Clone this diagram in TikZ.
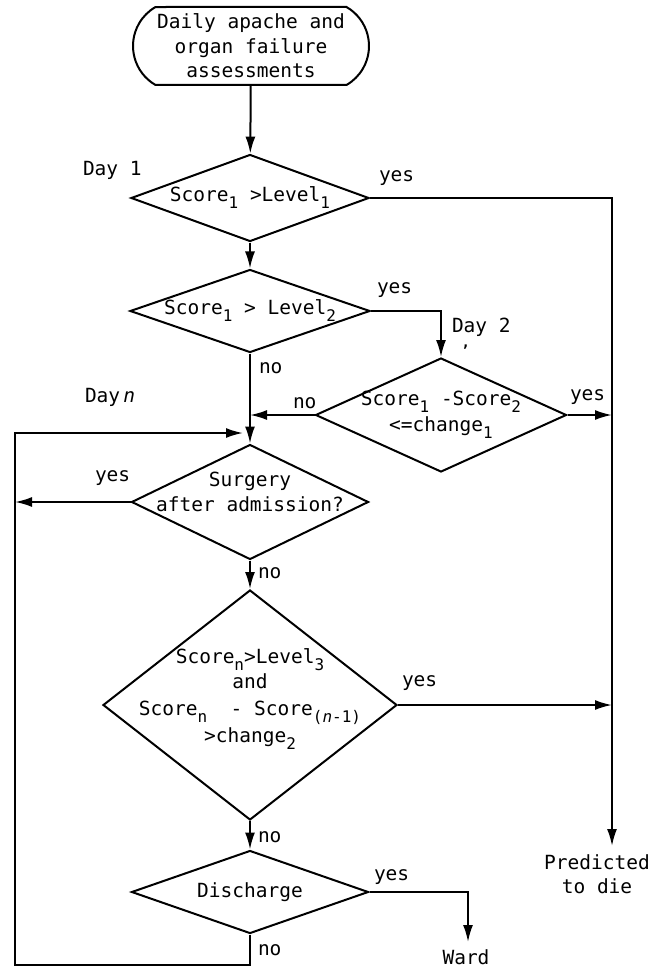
\documentclass[tikz,border=0pt]{standalone}
\usepackage{fontspec}
\setmainfont{DejaVu Sans Mono}
\usetikzlibrary{shapes.geometric,shapes.misc,arrows.meta}
\newcommand\sbx[1]{\raisebox{-7pt}{\fontsize{16}{16}\selectfont #1}}
\begin{document}
\begin{tikzpicture}[x=1pt,y=-1pt,
  line width=2pt,
  every node/.style={font=\fontsize{19.5}{24.5}\selectfont},
  dec/.style={draw, diamond, inner sep=0pt, line width=2pt},
  lbl/.style={inner sep=0pt, anchor=west},
  arr/.style={-{Latex[length=17pt,width=10pt]}, line width=2pt}]
\useasboundingbox (0,0) rectangle (670,968);

\node[draw, rounded rectangle, rounded rectangle arc length=120, minimum width=236pt, minimum height=78pt, inner sep=0pt, align=center] (term) at (251,46) {Daily apache and\\organ failure\\assessments};

\node[dec, minimum width=238pt, minimum height=87pt, label={[inner sep=0pt]center:Score\sbx{1} >Level\sbx{1}}] (d1) at (250,198) {};
\node[dec, minimum width=240pt, minimum height=83pt, label={[inner sep=0pt]center:Score\sbx{1} > Level\sbx{2}}] (d2) at (250,311) {};
\node[dec, minimum width=251pt, minimum height=114pt, label={[inner sep=0pt, align=center]center:Score\sbx{1} -Score\sbx{2}\\[2pt]<=change\sbx{1}}] (d3) at (441,415) {};
\node[dec, minimum width=237pt, minimum height=115pt, label={[inner sep=0pt, align=center, yshift=10pt]center:Surgery\\after admission?}] (surg) at (250,502) {};
\node[dec, minimum width=294pt, minimum height=230pt, label={[inner sep=0pt, align=center, yshift=6pt]center:Score\sbx{n}>Level\sbx{3}\\[1pt]and\\[2pt]Score\sbx{n}\ \ - Score\sbx{(\textit{n}-1)}\\[3pt]>change\sbx{2}}] (d4) at (250,705) {};
\node[dec, minimum width=237pt, minimum height=83pt, label={[inner sep=0pt]center:Discharge}] (disc) at (250,892) {};

\node[inner sep=0pt, align=center] (pred) at (597,874) {Predicted\\to die};
\node[inner sep=0pt] (ward) at (466,957) {Ward};

\node[lbl] (day1) at (82,170) {Day 1};
\node[lbl] (day2) at (451,327) {Day 2};
\node[lbl, font=\fontsize{14}{14}\selectfont\bfseries] (tick) at (460,350) {'};
\node[lbl] (dayn) at (84,397) {Day\,\textit{n}};

\node[lbl] (y1) at (378,178) {yes};
\node[lbl] (y2) at (376,290) {yes};
\node[lbl] (y3) at (569,397) {yes};
\node[lbl] (n3) at (292,403) {no};
\node[lbl] (n2) at (258,368) {no};
\node[lbl] (ys) at (94,478) {yes};
\node[lbl] (ns) at (257,573) {no};
\node[lbl] (y4) at (401,683) {yes};
\node[lbl] (n4) at (257,837) {no};
\node[lbl] (yd) at (373,877) {yes};
\node[lbl] (nd) at (257,950) {no};

\coordinate (predtop) at (612,846);
\coordinate (wardtop) at (468,942);
\coordinate (lb) at (15,965);
\coordinate (lt) at (15,433);

\draw[arr] (term) -- (d1);
\draw[arr] (d1) -- (d2);
\draw[arr] (d1.east) -| (predtop);
\draw[arr] (d2.east) -| (d3.north);
\draw[arr] (d3.east) -- (d3.east -| predtop);
\draw[arr] (d3.west) -- (d3.west -| d2.south);
\draw[arr] (d2.south) -- (surg.north);
\draw[arr] (disc.south) |- (lb) -- (lt) -- ([xshift=-7pt]lt -| surg.north);
\draw[arr] (surg.west) -- (surg.west -| lt);
\draw[arr] (surg.south) -- (d4.north);
\draw[arr] (d4.east) -- (d4.east -| predtop);
\draw[arr] (d4.south) -- (disc.north);
\draw[arr] (disc.east) -| (wardtop);
\end{tikzpicture}
\end{document}
